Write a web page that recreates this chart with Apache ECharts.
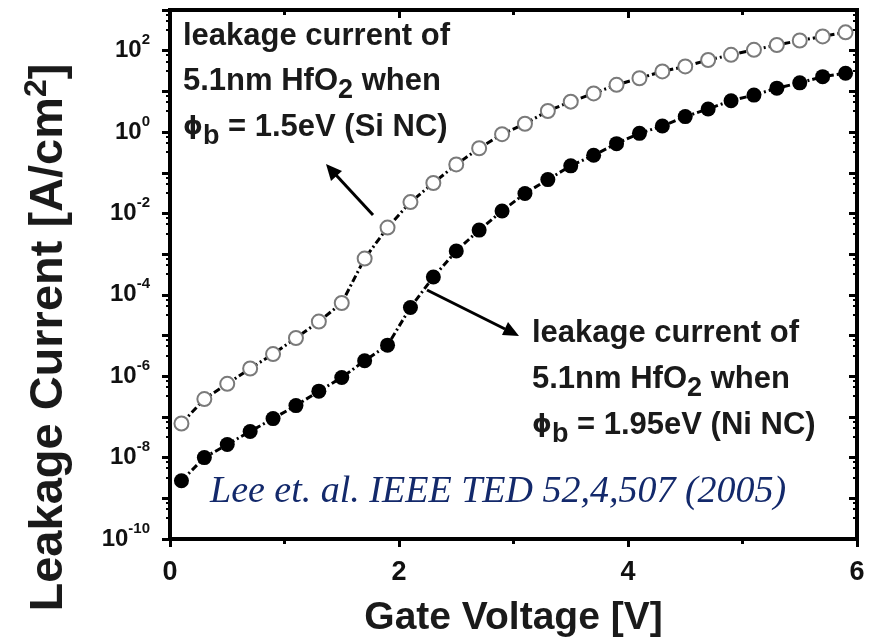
<!DOCTYPE html>
<html>
<head>
<meta charset="utf-8">
<script src="https://cdn.jsdelivr.net/npm/echarts@6/dist/echarts.min.js"></script>
<style>
  html, body { margin: 0; padding: 0; background: #fff; }
  #main { width: 876px; height: 641px; }
</style>
</head>
<body>
<div id="main"></div>
<script>
// gate voltage (V), same for both curves
var gateVoltage = [0.1, 0.3, 0.5, 0.7, 0.9, 1.1, 1.3, 1.5, 1.7, 1.9, 2.1, 2.3, 2.5, 2.7, 2.9,
                   3.1, 3.3, 3.5, 3.7, 3.9, 4.1, 4.3, 4.5, 4.7, 4.9, 5.1, 5.3, 5.5, 5.7, 5.9];

// leakage current (A/cm2), phi_b = 1.5eV (Si NC) - open circles
var siNC = [6.9e-8, 2.75e-7, 6.5e-7, 1.55e-6, 3.5e-6, 8.7e-6, 2.2e-5, 6.3e-5, 7.8e-4, 4.5e-3,
            1.9e-2, 5.6e-2, 0.16, 0.40, 0.89, 1.6, 3.3, 5.6, 8.9, 14.5,
            21, 31, 41, 59, 79, 105, 138, 178, 224, 282];

// leakage current (A/cm2), phi_b = 1.95eV (Ni NC) - filled circles
var niNC = [2.7e-9, 1.0e-8, 2.1e-8, 4.4e-8, 9.1e-8, 1.9e-7, 4.3e-7, 9.3e-7, 2.4e-6, 5.8e-6,
            4.9e-5, 2.75e-4, 1.2e-3, 3.9e-3, 1.15e-2, 3.1e-2, 6.8e-2, 0.148, 0.27, 0.52,
            0.93, 1.41, 2.4, 3.7, 5.9, 8.1, 12, 16.2, 23, 28];

// exponents that get a label on the y axis
var yLabelExps = [-10, -8, -6, -4, -2, 0, 2];

var FONT = '"Liberation Sans", Arial, sans-serif';

var chart = echarts.init(document.getElementById('main'));

function pts(xs, ys) {
  var out = [];
  for (var i = 0; i < xs.length; i++) out.push([xs[i], ys[i]]);
  return out;
}

var yLabelRich = {
  b: { fontFamily: FONT, fontWeight: 'bold', fontSize: 24, color: '#111', lineHeight: 36 },
  s: { fontFamily: FONT, fontWeight: 'bold', fontSize: 15, color: '#111', lineHeight: 16, verticalAlign: 'top' }
};

var noteRich = {
  sub: { fontFamily: FONT, fontWeight: 'bold', fontSize: 27, fill: '#1a1a1a', lineHeight: 28, verticalAlign: 'bottom' },
  phi: { fontFamily: '"DejaVu Sans", sans-serif', fontWeight: 'bold', fontSize: 25, fill: '#1a1a1a', lineHeight: 46 }
};

var tickStyle = { color: '#000', width: 3 };

function axisLine() {
  return { show: true, onZero: false, lineStyle: { color: '#000', width: 4 } };
}

var option = {
  backgroundColor: '#fff',
  animation: false,
  grid: {
    left: 170, right: 19, top: 10, bottom: 102,
    containLabel: false, outerBoundsMode: 'none',
    show: true, borderColor: '#000', borderWidth: 4, backgroundColor: 'transparent'
  },
  xAxis: [{
    type: 'value',
    min: 0, max: 6, interval: 2,
    name: 'Gate Voltage [V]',
    nameLocation: 'middle',
    nameGap: 58,
    nameTextStyle: { fontFamily: FONT, fontWeight: 'bold', fontSize: 39, color: '#1a1a1a', lineHeight: 42 },
    axisLine: axisLine(),
    axisTick: { show: true, length: 8, lineStyle: tickStyle },
    minorTick: { show: true, splitNumber: 2, length: 5, lineStyle: tickStyle },
    axisLabel: { margin: 20, fontFamily: FONT, fontWeight: 'bold', fontSize: 27, color: '#111' },
    splitLine: { show: false }
  }, {
    type: 'value', position: 'top',
    min: 0, max: 6, interval: 2,
    axisLine: axisLine(),
    axisTick: { show: true, inside: true, length: 8, lineStyle: tickStyle },
    minorTick: { show: true, splitNumber: 2, length: 5, lineStyle: tickStyle },
    axisLabel: { show: false },
    splitLine: { show: false }
  }],
  yAxis: [{
    type: 'log', logBase: 10,
    min: 1e-10, max: 1e3, interval: 1,
    name: 'Leakage Current [A/cm{s|2}]',
    nameLocation: 'middle',
    nameGap: 93,
    nameTextStyle: {
      fontFamily: FONT, fontWeight: 'bold', fontSize: 47, color: '#1a1a1a', lineHeight: 56,
      padding: [0, 126, 0, 0],
      rich: {
        s: { fontFamily: FONT, fontWeight: 'bold', fontSize: 32, color: '#1a1a1a', lineHeight: 10, verticalAlign: 'top' }
      }
    },
    axisLine: axisLine(),
    axisTick: { show: true, length: 8, lineStyle: tickStyle },
    minorTick: { show: true, splitNumber: 4, length: 4, lineStyle: { color: '#000', width: 2 } },
    axisLabel: {
      margin: 20,
      formatter: function (v) {
        var e = Math.round(Math.log10(v));
        return yLabelExps.indexOf(e) >= 0 ? '{b|10}{s|' + e + '}' : '';
      },
      rich: yLabelRich
    },
    splitLine: { show: false }
  }, {
    type: 'log', logBase: 10, position: 'right',
    min: 1e-10, max: 1e3, interval: 1,
    axisLine: axisLine(),
    axisTick: { show: true, inside: true, length: 8, lineStyle: tickStyle },
    minorTick: { show: true, splitNumber: 4, length: 4, lineStyle: { color: '#000', width: 2 } },
    axisLabel: { show: false },
    splitLine: { show: false }
  }],
  series: [{
    name: 'Si NC',
    type: 'line',
    // same scales as the bottom/left axes; binding keeps the mirror axes drawn
    xAxisIndex: 1, yAxisIndex: 1,
    data: pts(gateVoltage, siNC),
    symbol: 'circle',
    symbolSize: 14,
    itemStyle: { color: '#fff', borderColor: '#7a7a7a', borderWidth: 2 },
    lineStyle: { color: '#000', width: 3, type: [7, 3, 2, 3] },
    z: 3
  }, {
    name: 'Ni NC',
    type: 'line',
    xAxisIndex: 0, yAxisIndex: 0,
    data: pts(gateVoltage, niNC),
    symbol: 'circle',
    symbolSize: 15,
    itemStyle: { color: '#000', borderColor: '#000', borderWidth: 0 },
    lineStyle: { color: '#000', width: 3, type: [7, 3, 2, 3] },
    z: 3
  }],
  graphic: [
    // annotation for open circles
    {
      type: 'text', x: 183, y: 14, z: 10,
      style: {
        text: 'leakage current of\n5.1nm HfO{sub|2} when\n{phi|ϕ}{sub|b} = 1.5eV (Si NC)',
        font: 'bold 31px ' + FONT, fill: '#1a1a1a', lineHeight: 45,
        rich: noteRich
      }
    },
    // annotation for filled circles
    {
      type: 'text', x: 532, y: 310, z: 10,
      style: {
        text: 'leakage current of\n5.1nm HfO{sub|2} when\n{phi|ϕ}{sub|b} = 1.95eV (Ni NC)',
        font: 'bold 31px ' + FONT, fill: '#1a1a1a', lineHeight: 46,
        rich: noteRich
      }
    },
    // citation
    {
      type: 'text', x: 210, y: 492, z: 10,
      style: {
        text: 'Lee et. al. IEEE TED 52,4,507 (2005)',
        font: 'italic 38px "Liberation Serif", "Times New Roman", serif',
        fill: '#13296b', textVerticalAlign: 'middle'
      }
    },
    // arrow to upper annotation
    { type: 'line', z: 10, shape: { x1: 373, y1: 215, x2: 336, y2: 175 }, style: { stroke: '#000', lineWidth: 3 } },
    { type: 'polygon', z: 10, shape: { points: [[326, 164], [342, 171], [331, 181]] }, style: { fill: '#000' } },
    // arrow to lower annotation
    { type: 'line', z: 10, shape: { x1: 427, y1: 290, x2: 505, y2: 329 }, style: { stroke: '#000', lineWidth: 3 } },
    { type: 'polygon', z: 10, shape: { points: [[519, 336], [502, 335], [508, 322]] }, style: { fill: '#000' } }
  ]
};

chart.setOption(option);
</script>
</body>
</html>
